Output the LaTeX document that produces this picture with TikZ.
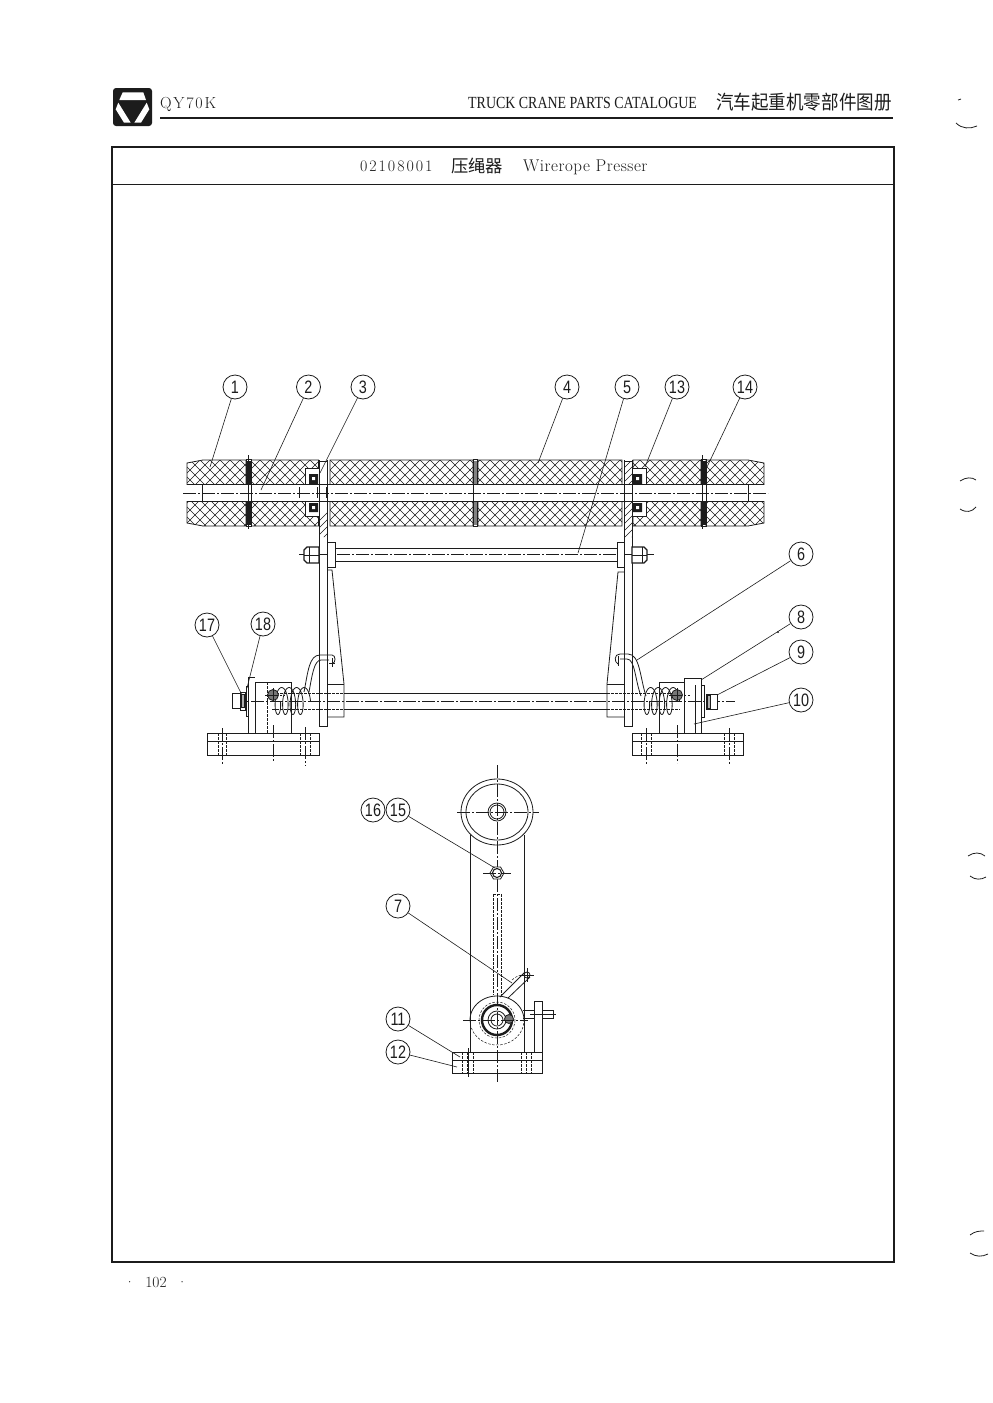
\documentclass[tikz,border=0pt]{standalone}
\usepackage{fontspec}
\setmainfont{Latin Modern Roman}
\newfontfamily\numfont[FakeStretch=.8]{Liberation Sans}
\newfontfamily\condfont[FakeStretch=.82]{Liberation Serif}
\newfontfamily\cjk{Noto Sans CJK SC}
\newfontfamily\cjknarrow[FakeStretch=.9]{Noto Sans CJK SC}
\definecolor{ink}{HTML}{1C1C1C}
\tikzset{
  ln/.style={draw=ink,line width=.8pt},
  heavy/.style={draw=ink,line width=1.1pt},
  fine/.style={draw=ink,line width=.5pt},
  cl/.style={draw=ink,line width=.45pt,dash pattern=on 13pt off 2pt on 2pt off 2pt},
  hid/.style={draw=ink,line width=.5pt,dash pattern=on 2.5pt off 1.5pt},
  bub/.style={circle,draw=ink,line width=.8pt,minimum size=24pt,inner sep=0pt,font=\numfont\fontsize{18}{18}\selectfont,text=ink},
  lead/.style={draw=ink,line width=.6pt},
  txt/.style={inner sep=0pt,text=ink},
  noise/.style={draw=ink,line width=.8pt},
  hatchline/.style={draw=ink,line width=.55pt},
}
\newcommand{\rollerbands}{%
  (203,460) -- (187,463) -- (187,484.5) -- (246,484.5) -- (246,460) -- cycle
  (187,501.5) -- (187,523) -- (203,526) -- (246,526) -- (246,501.5) -- cycle
  (251.5,460) rectangle (318.5,484.5) (251.5,501.5) rectangle (318.5,526)
  (330,460) rectangle (473,484.5) (330,501.5) rectangle (473,526)
  (478,460) rectangle (622,484.5) (478,501.5) rectangle (622,526)
  (633,460) rectangle (701,484.5) (633,501.5) rectangle (701,526)
  (706,460) -- (706,484.5) -- (764,484.5) -- (764,463) -- (748,460) -- cycle
  (706,501.5) -- (706,526) -- (748,526) -- (764,523) -- (764,501.5) -- cycle}
\newcommand{\washer}[3]{%
  \fill[#3] (#1,461) rectangle (#2,525);
  \draw[ln] (#1,459.5) rectangle (#2,526.5);
  \fill[white] (#1,485) rectangle (#2,501);}
\newcommand{\leadto}[3]{\coordinate (#1-end) at (#2,#3); \draw[lead] (#1) -- (#1-end);}
\begin{document}
\begin{tikzpicture}[x=1pt,y=-1pt]
\useasboundingbox (0,0) rectangle (993,1403);
\fill[white] (0,0) rectangle (993,1403);

% ---- header
\fill[ink,rounded corners=3pt] (113,88) rectangle (152,126);
\fill[white] (122.7,92.3) -- (143.3,92.3) -- (146,100) -- (119.3,100) -- cycle;
\fill[white] (118.3,102.7) -- (130.7,122.7) -- (124,122.7) -- (115.7,109.3) -- cycle;
\fill[white] (146.7,102.7) -- (134.3,122.7) -- (141,122.7) -- (149.3,109.3) -- cycle;
\node[txt,anchor=base west] (qy) at (160,108) {\fontsize{16}{16}\selectfont\addfontfeature{LetterSpace=11}QY70K};
\node[txt,anchor=base west] (cat) at (468,108) {\condfont\fontsize{17}{17}\selectfont TRUCK CRANE PARTS CATALOGUE};
\node[txt,anchor=base west] (catcn) at (716,109) {\cjknarrow\fontsize{19.5}{20}\selectfont 汽车起重机零部件图册};
\draw[draw=ink,line width=1.3pt] (160,118) -- (893,118);
% ---- frame
\draw[draw=ink,line width=1.2pt] (112,147) rectangle (894,1262);
\draw[draw=ink,line width=1pt] (112,184) -- (894,184);
\node[txt,anchor=base west] (code) at (360,171) {\fontsize{16}{16}\selectfont\addfontfeature{LetterSpace=12}02108001};
\node[txt,anchor=base west] (tcn) at (451,172) {\cjk\fontsize{17.3}{18}\selectfont 压绳器};
\node[txt,anchor=base west] (ten) at (523,171) {\fontsize{17}{17}\selectfont\addfontfeature{LetterSpace=3}Wirerope Presser};
\node[txt,anchor=base west] (pg) at (124,1287) {\fontsize{15.5}{16}\selectfont ·\hspace{10pt}102\hspace{10pt}·};

% ---- roller
\begin{scope}
\clip \rollerbands;
\foreach \k in {90,100,...,770} {
  \draw[hatchline] (\k,450) -- ++(90,90);
  \draw[hatchline] (\k,540) -- ++(90,-90);
}
\end{scope}
\draw[ln] \rollerbands;
\washer{246}{251}{ink}
\washer{473.5}{477.5}{ink!55}
\washer{701}{706}{ink}
% shaft
\draw[ln] (187,484.5) -- (764,484.5) (187,501.5) -- (764,501.5);
\draw[ln] (202,484.5) -- (202,501.5) (748,484.5) -- (748,501.5);
\draw[cl] (183,493) -- (768,493);
\draw[ln] (248,455) -- (248,529) (702,455) -- (702,529);
\draw[ln] (299,487) -- (299,498) (317,487) -- (317,498) (326,487) -- (326,498);
% bearings
\fill[white] (305,468) rectangle (318.5,484);
\draw[ln] (305,484) -- (305,468) -- (318.5,468);
\fill[white] (305,502) rectangle (318.5,516);
\draw[ln] (305,502) -- (305,516) -- (318.5,516);
\fill[ink] (309,474) rectangle (318,484) (309,503) rectangle (318,512);
\fill[white] (312,477) rectangle (315,480) (312,506) rectangle (315,509);
\fill[white] (632.5,468) rectangle (646,484);
\draw[ln] (646,484) -- (646,468) -- (632.5,468);
\fill[white] (632.5,502) rectangle (646,516);
\draw[ln] (646,502) -- (646,516) -- (632.5,516);
\fill[ink] (633,474) rectangle (642,484) (633,503) rectangle (642,512);
\fill[white] (636,477) rectangle (639,480) (636,506) rectangle (639,509);
% side plates
\begin{scope}
\clip (319,462) rectangle (327,484.5) (319,501.5) rectangle (327,537)
      (624,462) rectangle (632,484.5) (624,501.5) rectangle (632,537);
\foreach \k in {300,307,...,650} {
  \draw[fine] (\k,540) -- ++(90,-90);
}
\end{scope}
\draw[ln] (319,460) -- (319,726) -- (327,726) -- (327,460);
\draw[ln] (624,460) -- (624,726) -- (632,726) -- (632,460);
\draw[ln] (319,461) -- (327,461) (624,461) -- (632,461);
% tie rod
\draw[ln] (335,548) -- (617,548) (335,561) -- (617,561);
\draw[cl] (299,554.5) -- (655,554.5);
\draw[ln,fill=white] (327,542) rectangle (335,567);
\draw[ln,fill=white] (617,542) rectangle (624,567);
\draw[heavy,fill=white] (304,550) -- (307,547) -- (319,547) -- (319,563) -- (307,563) -- (304,560) -- cycle;
\draw[heavy,fill=white] (632,547) -- (644,547) -- (647,550) -- (647,560) -- (644,563) -- (632,563) -- cycle;
\draw[fine] (304,555) -- (319,555) (632,555) -- (647,555);
\draw[fine] (309,547) -- (309,563) (642,547) -- (642,563);
% arms
\draw[ln] (327,570) -- (332,570) -- (344,684) -- (344,717) -- (327,717);
\draw[ln] (327,684) -- (344,684);
\draw[ln] (624,572) -- (618,572) -- (607,684) -- (607,717) -- (624,717);
\draw[ln] (607,684) -- (624,684);
% lower shaft
\draw[ln] (344,693) -- (607,693) (344,709) -- (607,709);
\draw[hid] (272,693) -- (344,693) (272,709) -- (344,709);
\draw[hid] (607,693) -- (680,693) (607,709) -- (680,709);
\draw[cl] (232,701) -- (735,701);
% left spring + hook
\draw[ln,domain=0:1440,samples=130,smooth] plot ({276+30*(\x/1440)+4.5*cos(\x)},{701+13.5*sin(\x)});
\draw[ln] (304,692) .. controls (308,672) and (309,655) .. (320,655) -- (332,655) .. controls (336,655) and (336,663) .. (332,664);
\draw[ln] (309,692) .. controls (312,676) and (314,660) .. (321,660) -- (329,660);
\draw[fine] (332,658) -- (332,667) (329,663) -- (335,663);
% right spring + hook
\draw[ln,domain=0:1440,samples=130,smooth] plot ({645+30*(\x/1440)+4.5*cos(\x)},{701+13.5*sin(\x)});
\draw[ln] (646,696) .. controls (640,678) and (640,654) .. (628,654) -- (620,654) .. controls (614,654) and (614,662) .. (618,664);
\draw[ln] (641,696) .. controls (635,680) and (635,659) .. (627,659) -- (620,659);
\draw[fine] (618,656) -- (618,666);
% left bracket
\draw[ln] (248,733) -- (248,677) -- (255,677);
\draw[ln] (255,733) -- (255,682) -- (291,682) -- (291,733);
\draw[hid] (267,682) -- (267,733);
\draw[ln] (246,686) rectangle (248,716);
\draw[ln,fill=white] (240,692) rectangle (245,710);
\draw[ln,fill=white] (232,693) rectangle (240,708);
\draw[ln,fill=ink!35] (241,694) rectangle (244,707);
\draw[ln,fill=ink!60] (273,695) circle [radius=5.5];
\draw[cl] (265,695) -- (285,695) (273,688) -- (273,702);
% right bracket
\draw[ln] (659,733) -- (659,682) -- (684,682);
\draw[ln] (684,733) -- (684,678) -- (701,678) -- (701,733);
\draw[ln] (695,685) -- (695,733);
\draw[hid] (684,682) -- (684,733);
\draw[ln] (701,685) rectangle (704,717);
\draw[ln,fill=white] (706,694) rectangle (717,709);
\draw[ln,fill=ink!35] (707,695) rectangle (710,708);
\draw[ln,fill=ink!60] (677,695) circle [radius=5.5];
\draw[cl] (669,695) -- (690,695) (677,688) -- (677,702);
% bases
\draw[ln] (207,733) rectangle (319,755) (207,741) -- (319,741);
\draw[ln] (632,733) rectangle (743,755) (632,741) -- (743,741);
\draw[cl] (222,728) -- (222,764) (273,725) -- (273,762) (305,727) -- (305,766);
\draw[hid] (218,733) -- (218,755) (226,733) -- (226,755) (300,733) -- (300,755) (310,733) -- (310,755);
\draw[cl] (646,728) -- (646,765) (677,725) -- (677,763) (729,728) -- (729,765);
\draw[hid] (641,733) -- (641,755) (651,733) -- (651,755) (724,733) -- (724,755) (734,733) -- (734,755);

% ---- side view
\draw[ln] (470,835) -- (470,1052) (524,835) -- (524,1052);
\draw[ln,fill=white] (497,812) circle [x radius=36,y radius=33];
\draw[ln] (497,812) circle [x radius=31,y radius=28];
\draw[ln] (497,812) circle [radius=9] (497,812) circle [radius=7];
\draw[cl] (457,812) -- (539,812);
\draw[cl] (497,765) -- (497,1082);
% small nut
\draw[ln,fill=white] (490,873) -- (493.5,867) -- (500.5,867) -- (504,873) -- (500.5,879) -- (493.5,879) -- cycle;
\draw[heavy] (497,873) circle [radius=4.5];
\draw[cl] (483,873) -- (511,873);
% slot
\draw[hid] (493,894) -- (493,995) (501,894) -- (501,995) (493,894) -- (501,894);
% latch arm
\draw[ln] (500,997) -- (525,972) (508,998) -- (530,977);
\draw[ln] (527,975) circle [radius=3];
\draw[fine] (527,968) -- (527,982) (520,975) -- (534,975);
\draw[hid] (512,980) .. controls (516,976) and (520,975) .. (524,975);
% bottom pivot
\draw[ln,domain=180:360,samples=40,smooth] plot ({497+27*cos(\x)},{1020+24*sin(\x)});
\draw[hid,domain=180:360,samples=40,smooth] plot ({497+27*cos(\x)},{1020-25*sin(\x)});
\draw[hid] (497,1020) circle [radius=18];
\draw[draw=ink,line width=2.4pt] (497,1020) circle [radius=15];
\draw[ln] (497,1020) circle [radius=9] (497,1020) circle [radius=6];
\draw[ln,fill=ink!60] (509,1019) circle [radius=4.5];
\draw[cl] (463,1020) -- (528,1020);
% side plate and pin
\draw[ln] (534,1052) -- (534,1001) -- (542,1001) -- (542,1052);
\draw[ln] (523,1010) -- (534,1010) (523,1018) -- (534,1018) (542,1010) -- (553,1010) -- (553,1018) -- (542,1018);
\draw[fine] (530,1014) -- (556,1014);
% base
\draw[ln] (452,1052) rectangle (542,1073) (452,1060) -- (542,1060);
\draw[hid] (462,1052) -- (462,1073) (467,1052) -- (467,1073) (473,1052) -- (473,1073) (521,1052) -- (521,1073) (526,1052) -- (526,1073) (531,1052) -- (531,1073);
\draw[fine] (468,1048) -- (468,1077);

% ---- balloons
\node[bub] (b1) at (235,387) {1};
\node[bub] (b2) at (308.5,387) {2};
\node[bub] (b3) at (363,387) {3};
\node[bub] (b4) at (567,387) {4};
\node[bub] (b5) at (627,387) {5};
\node[bub] (b13) at (677,387) {13};
\node[bub] (b14) at (745,387) {14};
\node[bub] (b6) at (801,554) {6};
\node[bub] (b8) at (801,617) {8};
\node[bub] (b9) at (801,652) {9};
\node[bub] (b10) at (801,700) {10};
\node[bub] (b17) at (207,625) {17};
\node[bub] (b18) at (263,624) {18};
\node[bub] (b16) at (373,810) {16};
\node[bub] (b15) at (398,810) {15};
\node[bub] (b7) at (398,906) {7};
\node[bub] (b11) at (398,1019) {11};
\node[bub] (b12) at (398,1052) {12};
\leadto{b1}{210}{467}
\leadto{b2}{261}{490}
\leadto{b3}{320}{473}
\leadto{b4}{538}{463}
\leadto{b5}{578}{553}
\leadto{b13}{645}{467}
\leadto{b14}{707}{467}
\leadto{b6}{637}{660}
\leadto{b8}{701}{680}
\leadto{b9}{717}{695}
\leadto{b10}{694}{724}
\leadto{b17}{242}{695}
\leadto{b18}{247}{688}
\leadto{b15}{495}{868}
\leadto{b7}{512}{983}
\leadto{b11}{460}{1057}
\leadto{b12}{457}{1067}

% ---- scan marks in the margin
\draw[noise] (958,100) -- (961,99);
\draw[noise] (956,123) .. controls (962,129) and (970,129) .. (977,126);
\draw[noise] (960,481) .. controls (966,477) and (972,477) .. (976,480);
\draw[noise] (960,509) .. controls (966,513) and (972,512) .. (976,507);
\draw[noise] (968,856) .. controls (974,852) and (980,852) .. (985,856);
\draw[noise] (970,876) .. controls (975,880) and (981,880) .. (986,877);
\draw[noise] (970,1235) .. controls (975,1231) and (980,1231) .. (984,1231);
\draw[noise] (970,1253) .. controls (976,1257) and (982,1257) .. (988,1254);
\fill[ink] (778,632) circle [radius=1];
\end{tikzpicture}
\end{document}
